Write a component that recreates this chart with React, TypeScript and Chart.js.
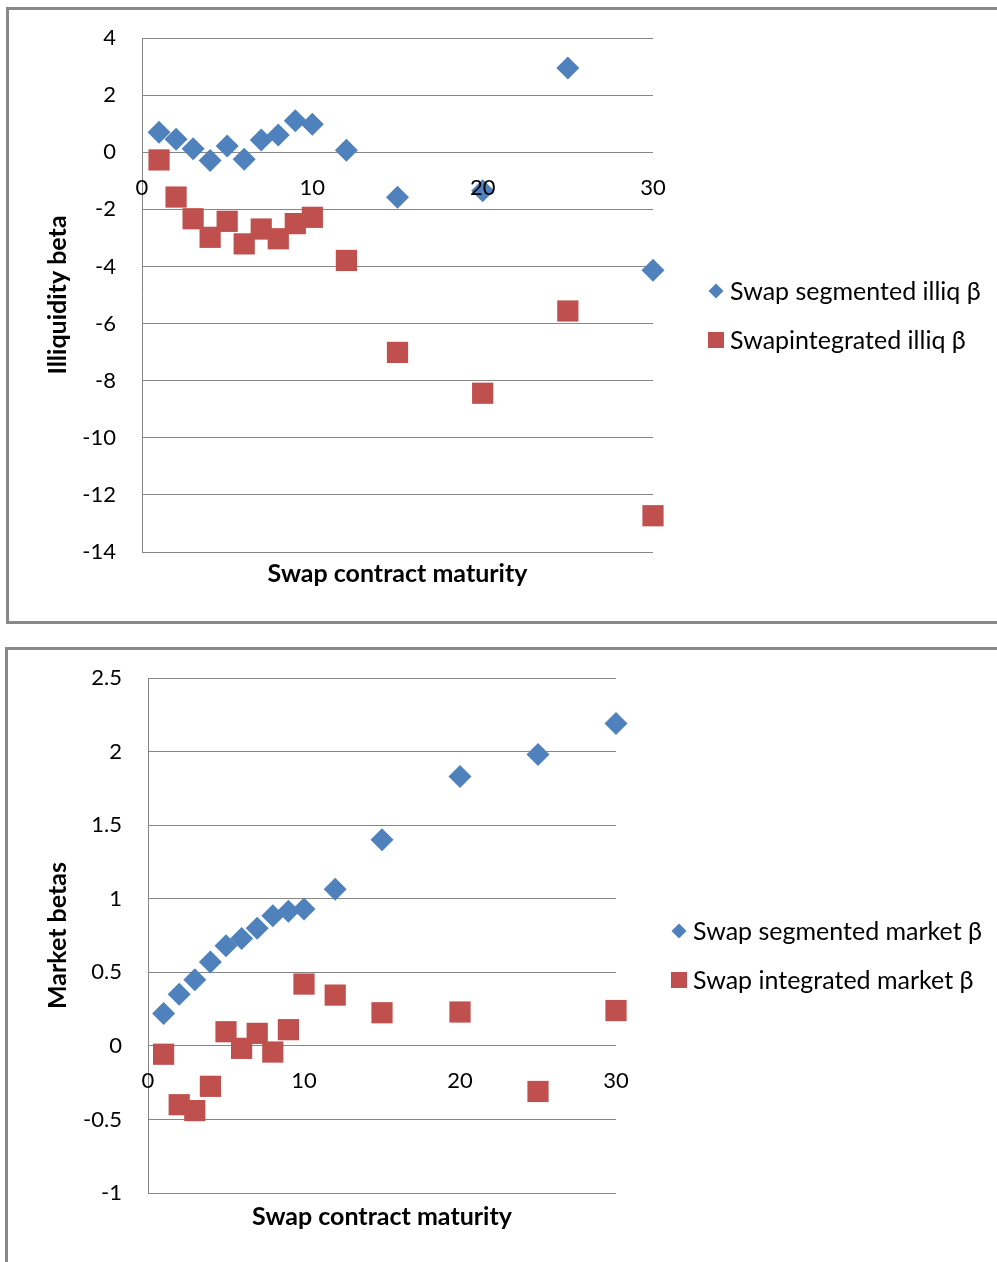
import React, { useEffect, useRef } from 'react';
import { Chart, registerables } from 'chart.js';

Chart.register(...registerables);

// ---- data ----
const maturities = [1, 2, 3, 4, 5, 6, 7, 8, 9, 10, 12, 15, 20, 25, 30];
const segIlliq = [0.7, 0.45, 0.12, -0.29, 0.22, -0.25, 0.43, 0.6, 1.1, 0.98, 0.07, -1.58, -1.35, 2.95, -4.13];
const intIlliq = [-0.27, -1.57, -2.33, -2.98, -2.42, -3.21, -2.69, -3.03, -2.5, -2.28, -3.79, -7.01, -8.44, -5.56, -12.73];
const segMarket = [0.22, 0.35, 0.45, 0.57, 0.68, 0.73, 0.8, 0.885, 0.915, 0.93, 1.065, 1.4, 1.83, 1.98, 2.19];
const intMarket = [-0.057, -0.4, -0.44, -0.275, 0.096, -0.017, 0.085, -0.042, 0.11, 0.42, 0.345, 0.225, 0.23, -0.31, 0.24];

const illiqLabels = ['Swap segmented illiq β', 'Swapintegrated illiq β'];
const marketLabels = ['Swap segmented market β', 'Swap integrated market β'];
const xTitle = 'Swap contract maturity';

const BLUE = '#4F81BD';
const RED = '#C0504D';
const GRID = '#868686';
const FONT = 'Lato, "Open Sans", sans-serif';
const TICK_SIZE = 22;
const TITLE_SIZE = 25;
const LEGEND_SIZE = 25;

const toPoints = (ys: number[]) => maturities.map((x, i) => ({ x, y: ys[i] }));

const sideLegend = {
  id: 'sideLegend',
  afterDraw(chart: any, _args: any, opts: any) {
    const ctx = chart.ctx;
    ctx.save();
    ctx.font = `${opts.size}px ${FONT}`;
    ctx.textBaseline = 'middle';
    chart.data.datasets.forEach((ds: any, i: number) => {
      const it = opts.items[i];
      ctx.fillStyle = ds.backgroundColor;
      ctx.beginPath();
      if (ds.pointStyle === 'rectRot') {
        const r = opts.diamond;
        ctx.moveTo(it.mx, it.y - r);
        ctx.lineTo(it.mx + r, it.y);
        ctx.lineTo(it.mx, it.y + r);
        ctx.lineTo(it.mx - r, it.y);
        ctx.closePath();
      } else {
        const h = opts.square;
        ctx.rect(it.mx - h, it.y - h, 2 * h, 2 * h);
      }
      ctx.fill();
      ctx.fillStyle = '#000';
      ctx.textAlign = 'left';
      ctx.fillText(ds.label, it.tx, it.y + 1);
    });
    ctx.restore();
  },
};

type PanelProps = {
  boxLeft: number;
  boxTop: number;
  boxH: number;
  canvasH: number;
  areaLeft: number;
  areaTop: number;
  areaRight: number;
  areaBottom: number;
  yMin: number;
  yMax: number;
  yStep: number;
  yTitle: string;
  yTitleX: number;
  xTitleY: number;
  seg: number[];
  integ: number[];
  labels: string[];
  legendItems: { mx: number; tx: number; y: number }[];
};

const CANVAS_W = 990;

function Panel(p: PanelProps) {
  const ref = useRef<HTMLCanvasElement>(null);
  useEffect(() => {
    if (!ref.current) return;
    const lh = TITLE_SIZE * 1.2;
    const chart = new Chart(ref.current, {
      type: 'scatter',
      data: {
        datasets: [
          {
            label: p.labels[0],
            data: toPoints(p.seg),
            backgroundColor: BLUE,
            borderColor: BLUE,
            pointStyle: 'rectRot',
            pointRadius: 11.5,
            pointHoverRadius: 11.5,
            pointBorderWidth: 0,
            clip: false,
          } as any,
          {
            label: p.labels[1],
            data: toPoints(p.integ),
            backgroundColor: RED,
            borderColor: RED,
            pointStyle: 'rect',
            pointRadius: 15,
            pointHoverRadius: 15,
            pointBorderWidth: 0,
            clip: false,
          } as any,
        ],
      },
      options: {
        animation: false,
        responsive: false,
        maintainAspectRatio: false,
        layout: {
          padding: { left: 0, top: p.areaTop, right: CANVAS_W - p.areaRight, bottom: 0 },
        },
        plugins: {
          legend: { display: false },
          tooltip: { enabled: false },
          sideLegend: { items: p.legendItems, size: LEGEND_SIZE, diamond: 7.5, square: 8 },
        } as any,
        scales: {
          x: {
            type: 'linear',
            position: { y: 0 } as any,
            min: 0,
            max: 30,
            ticks: {
              stepSize: 10,
              padding: 22,
              color: '#000',
              font: { family: FONT, size: TICK_SIZE },
              maxRotation: 0,
              z: 1,
            },
            grid: { display: false, drawTicks: false },
            border: { display: false },
            afterFit: (s: any) => {
              s.paddingTop = 0;
              s.paddingBottom = 0;
            },
          } as any,
          x2: {
            type: 'linear',
            axis: 'x',
            position: 'bottom',
            min: 0,
            max: 30,
            ticks: { display: false },
            grid: { display: false, drawTicks: false },
            border: { display: false },
            title: {
              display: true,
              text: xTitle,
              color: '#000',
              font: { family: FONT, size: TITLE_SIZE, weight: 'bold' },
              padding: { top: 0, bottom: p.canvasH - p.xTitleY - lh / 2 },
            },
            afterFit: (s: any) => {
              s.height = p.canvasH - p.areaBottom;
            },
          } as any,
          y: {
            type: 'linear',
            min: p.yMin,
            max: p.yMax,
            ticks: {
              stepSize: p.yStep,
              padding: 26,
              color: '#000',
              font: { family: FONT, size: TICK_SIZE },
              callback: (v: any) => `${v}`,
            },
            grid: { color: GRID, lineWidth: 1, drawTicks: false },
            border: { display: true, color: GRID, width: 1 },
            title: {
              display: true,
              text: p.yTitle,
              color: '#000',
              font: { family: FONT, size: TITLE_SIZE, weight: 'bold' },
              padding: { top: p.yTitleX - lh / 2, bottom: 0 },
            },
            afterFit: (s: any) => {
              s.width = p.areaLeft;
              s.paddingTop = 0;
              s.paddingBottom = 0;
            },
          } as any,
        },
      },
      plugins: [sideLegend as any],
    });
    return () => chart.destroy();
  }, []);

  return (
    <div
      style={{
        position: 'absolute',
        left: p.boxLeft,
        top: p.boxTop,
        width: 1000,
        height: p.boxH,
        boxSizing: 'border-box',
        border: '3px solid #898989',
        background: '#fff',
        overflow: 'hidden',
      }}
    >
      <canvas ref={ref} width={CANVAS_W} height={p.canvasH} style={{ display: 'block', width: CANVAS_W, height: p.canvasH }} />
    </div>
  );
}

export default function App() {
  return (
    <div style={{ position: 'absolute', left: 0, top: 0, width: 997, height: 1262, overflow: 'hidden', background: '#fff' }}>
      <Panel
        boxLeft={6}
        boxTop={7}
        boxH={617}
        canvasH={611}
        areaLeft={133}
        areaTop={28}
        areaRight={644}
        areaBottom={542}
        yMin={-14}
        yMax={4}
        yStep={2}
        yTitle="Illiquidity beta"
        yTitleX={49}
        xTitleY={564}
        seg={segIlliq}
        integ={intIlliq}
        labels={illiqLabels}
        legendItems={[
          { mx: 707, tx: 721, y: 281 },
          { mx: 707, tx: 721, y: 330 },
        ]}
      />
      <Panel
        boxLeft={5}
        boxTop={647}
        boxH={640}
        canvasH={612}
        areaLeft={140}
        areaTop={28}
        areaRight={608}
        areaBottom={543}
        yMin={-1}
        yMax={2.5}
        yStep={0.5}
        yTitle="Market betas"
        yTitleX={50}
        xTitleY={567}
        seg={segMarket}
        integ={intMarket}
        labels={marketLabels}
        legendItems={[
          { mx: 671, tx: 685, y: 281 },
          { mx: 671, tx: 685, y: 330 },
        ]}
      />
    </div>
  );
}
